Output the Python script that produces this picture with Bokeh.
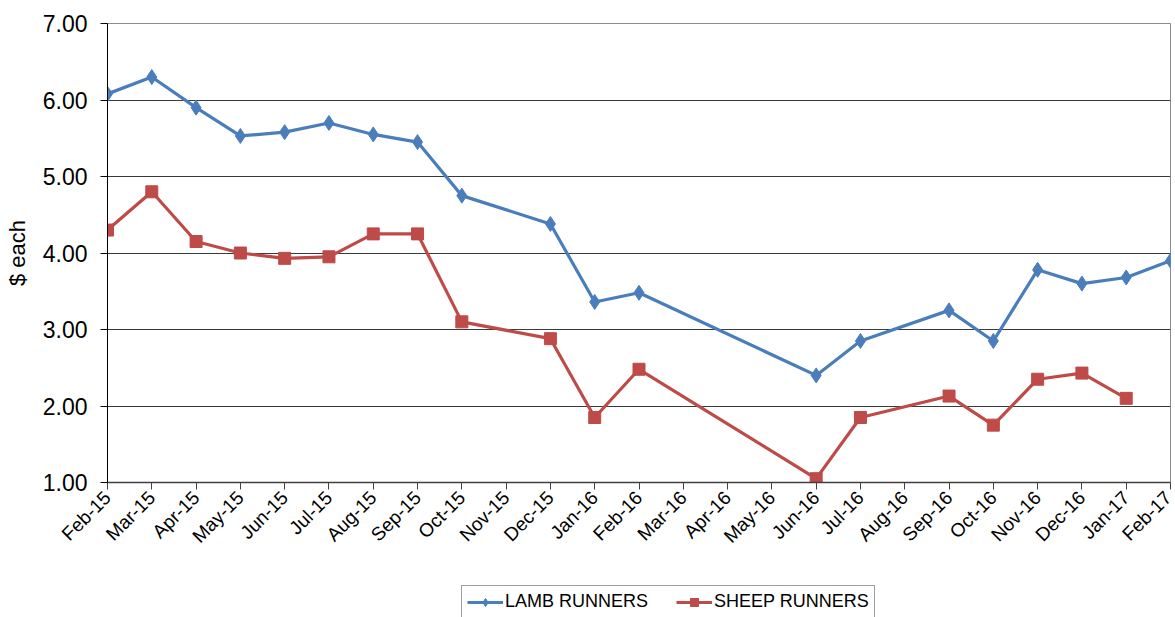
import math
from bokeh.plotting import figure
from bokeh.layouts import column
from bokeh.models import FixedTicker, Legend, LegendItem, NumeralTickFormatter
from bokeh.embed import file_html
from bokeh.resources import INLINE

months = ["Feb-15", "Mar-15", "Apr-15", "May-15", "Jun-15", "Jul-15", "Aug-15", "Sep-15",
          "Oct-15", "Nov-15", "Dec-15", "Jan-16", "Feb-16", "Mar-16", "Apr-16", "May-16",
          "Jun-16", "Jul-16", "Aug-16", "Sep-16", "Oct-16", "Nov-16", "Dec-16", "Jan-17", "Feb-17"]
lamb = [6.08, 6.30, 5.90, 5.53, 5.58, 5.70, 5.55, 5.45, 4.75, None, 4.38, 3.36, 3.48, None, None, None,
        2.40, 2.85, None, 3.25, 2.85, 3.78, 3.60, 3.68, 3.90]
sheep = [4.30, 4.80, 4.15, 4.00, 3.93, 3.95, 4.25, 4.25, 3.10, None, 2.88, 1.85, 2.48, None, None, None,
         1.05, 1.85, None, 2.13, 1.75, 2.35, 2.43, 2.10, None]
y_ticks = [1, 2, 3, 4, 5, 6, 7]
series_names = ["LAMB RUNNERS", "SHEEP RUNNERS"]

FONT = "'Liberation Sans Narrow', 'Liberation Sans', Arial"
BLUE = "#4A7EBB"
RED = "#BE4B48"

def pts(vals):
    xs = [i for i, v in enumerate(vals) if v is not None]
    ys = [v for v in vals if v is not None]
    return xs, ys

p = figure(width=1175, height=585, x_range=(0, len(months) - 1), y_range=(1, 7),
           output_backend="svg", toolbar_location=None,
           min_border_left=107, min_border_right=5, min_border_top=23, min_border_bottom=103)
p.background_fill_color = "white"
p.border_fill_color = "white"
p.outline_line_color = "#8c8c8c"
p.outline_line_width = 1

lx, ly = pts(lamb)
sx, sy = pts(sheep)
p.line(lx, ly, line_color=BLUE, line_width=3.2)
p.scatter(lx, ly, marker="diamond", size=15, fill_color=BLUE, line_color=BLUE)
p.line(sx, sy, line_color=RED, line_width=3.2)
p.scatter(sx, sy, marker="square", size=12, fill_color=RED, line_color=RED)

p.xaxis.ticker = FixedTicker(ticks=list(range(len(months))))
p.xaxis.major_label_overrides = {i: m for i, m in enumerate(months)}
p.xaxis.major_label_orientation = math.pi / 4
p.xaxis.major_label_text_font = FONT
p.xaxis.major_label_text_font_size = "19px"
p.xaxis.major_label_text_color = "black"
p.xaxis.axis_line_color = "#404040"
p.xaxis.axis_line_width = 1.5
p.xaxis.major_tick_line_color = "#404040"
p.xaxis.major_tick_out = 7
p.xaxis.major_tick_in = 0
p.xaxis.minor_tick_line_color = None

p.yaxis.ticker = FixedTicker(ticks=y_ticks)
p.yaxis.formatter = NumeralTickFormatter(format="0.00")
p.yaxis.major_label_text_font = FONT
p.yaxis.major_label_text_font_size = "23px"
p.yaxis.major_label_text_color = "black"
p.yaxis.major_label_standoff = 13
p.yaxis.axis_line_color = "black"
p.yaxis.major_tick_line_color = "black"
p.yaxis.major_tick_out = 7
p.yaxis.major_tick_in = 0
p.yaxis.minor_tick_line_color = None
p.yaxis.axis_label = "$ each"
p.yaxis.axis_label_text_font = FONT
p.yaxis.axis_label_text_font_size = "22px"
p.yaxis.axis_label_text_font_style = "normal"
p.yaxis.axis_label_text_color = "black"
p.yaxis.axis_label_standoff = 10

p.xgrid.grid_line_color = None
p.ygrid.grid_line_color = "#3a3a3a"
p.ygrid.grid_line_width = 1

# legend strip below the chart (its ranges keep the data out of view; only the legend shows)
q = figure(width=1175, height=32, x_range=(100, 101), y_range=(100, 101),
           output_backend="svg", toolbar_location=None,
           x_axis_location=None, y_axis_location=None,
           min_border_left=107, min_border_right=5, min_border_top=0, min_border_bottom=0)
q.outline_line_color = None
q.grid.grid_line_color = None
q.background_fill_color = "white"
q.border_fill_color = "white"
k1 = q.line(lx, ly, line_color=BLUE, line_width=3.2)
k2 = q.scatter(lx, ly, marker="diamond", size=13, fill_color=BLUE, line_color=BLUE)
k3 = q.line(sx, sy, line_color=RED, line_width=3.2)
k4 = q.scatter(sx, sy, marker="square", size=11, fill_color=RED, line_color=RED)

legend = Legend(items=[LegendItem(label=series_names[0], renderers=[k1, k2]),
                       LegendItem(label=series_names[1], renderers=[k3, k4])],
                orientation="horizontal", location=(354, -1),
                label_text_font=FONT, label_text_font_size="18px", label_text_color="black",
                label_height=20, glyph_height=20, label_standoff=2,
                border_line_color="#404040", border_line_width=1,
                glyph_width=36, spacing=28, padding=5, margin=0,
                background_fill_color="white", background_fill_alpha=1)
q.add_layout(legend, "center")

layout = column(p, q, spacing=0)
open("out.html", "w").write(file_html(layout, INLINE))
